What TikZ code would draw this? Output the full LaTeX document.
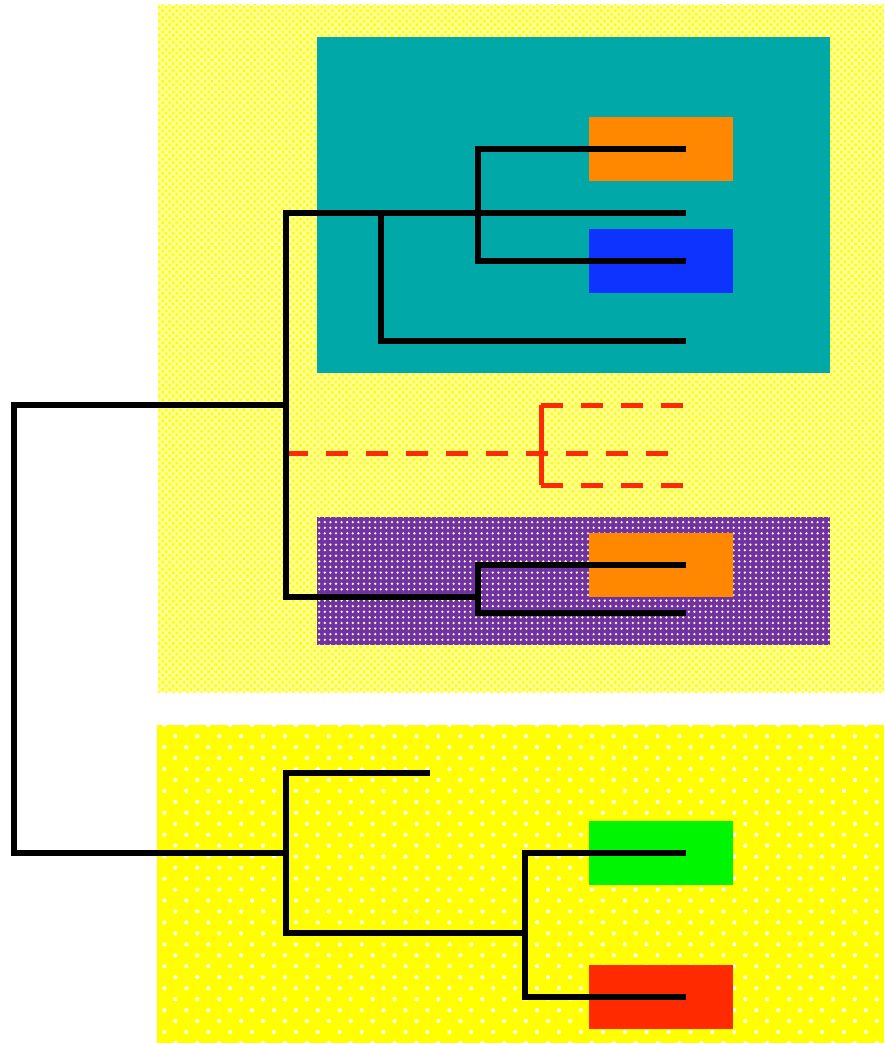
\documentclass[tikz,border=0pt]{standalone}
\usetikzlibrary{patterns.meta}
\definecolor{cladeteal}{HTML}{00A8A8}
\definecolor{leaforange}{HTML}{FF8800}
\definecolor{leafblue}{HTML}{0F33FF}
\definecolor{cladepurple}{HTML}{7030A8}
\definecolor{leafgreen}{HTML}{00F500}
\definecolor{leafred}{HTML}{FF2A00}
\definecolor{cladeyellow}{HTML}{FFFF00}
\begin{document}
\begin{tikzpicture}[x=1pt,y=-1pt,
    branch/.style={draw=black,line width=5.4pt},
    lostbar/.style={draw=leafred,line width=5pt},
    lost/.style={lostbar,dash pattern=on 22pt off 18pt}]
  \useasboundingbox (0,0) rectangle (884,1043);

  \fill[cladeyellow!40] (158,5) rectangle (884,692);
  \fill[pattern={Dots[radius=1.8pt,distance=5pt,angle=45]},pattern color=cladeyellow] (158,5) rectangle (884,692);
  \fill[cladeyellow] (157,725) rectangle (884,1043);
  \fill[pattern={Dots[radius=2pt,distance=15.5pt,angle=45]},pattern color=white] (157,725) rectangle (884,1043);

  \fill[cladeteal] (317,37) rectangle (830,373);
  \fill[cladepurple] (317,517) rectangle (830,645);
  \fill[pattern={Dots[radius=1.3pt,distance=5.6pt]},pattern color=white!60!cladeyellow] (317,517) rectangle (830,645);

  \fill[leaforange] (589,117) rectangle (733,181);
  \fill[leafblue] (589,229) rectangle (733,293);
  \fill[leaforange] (589,533) rectangle (733,597);
  \fill[leafgreen] (589,821) rectangle (733,885);
  \fill[leafred] (589,965) rectangle (733,1029);

  \coordinate (root) at (14,405);
  \coordinate (top) at (286,405);
  \coordinate (bot) at (286,853);
  \coordinate (t1) at (686,149);
  \coordinate (t2) at (686,213);
  \coordinate (t3) at (686,261);
  \coordinate (t4) at (686,341);
  \coordinate (t5) at (686,565);
  \coordinate (t6) at (686,613);
  \coordinate (l1) at (686,405);
  \coordinate (l2) at (672,453);
  \coordinate (l3) at (686,485);
  \coordinate (s1) at (430,773);
  \coordinate (s2) at (686,853);
  \coordinate (s3) at (686,997);

  \coordinate (u1) at (286,213);
  \coordinate (u2) at (286,597);
  \coordinate (u3) at (286,453);
  \coordinate (c) at (381,213);
  \coordinate (d) at (478,205);
  \coordinate (p) at (478,597);
  \coordinate (q) at (541,453);
  \coordinate (qa) at (541,405);
  \coordinate (qb) at (541,485);
  \coordinate (v) at (525,933);

  \draw[lost] (u3) -- (q) -- (l2);
  \draw[lost] (qa) -- (l1);
  \draw[lost] (qb) -- (l3);
  \draw[lostbar] (qa) -- (qb);

  \draw[branch] (top) -- (root) |- (bot);
  \draw[branch] (t2) -- (u1) -- (u2) -- (p);
  \draw[branch] (c) |- (t4);
  \draw[branch] (t1) -| (d) |- (t3);
  \draw[branch] (t5) -| (p) |- (t6);
  \draw[branch] (s1) -| (bot) |- (v);
  \draw[branch] (s2) -| (v) |- (s3);
\end{tikzpicture}
\end{document}
